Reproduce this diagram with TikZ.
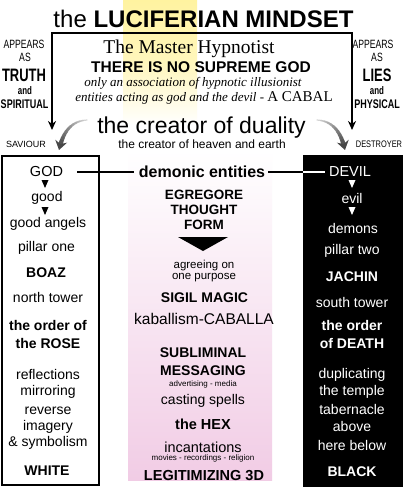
\documentclass[tikz,border=0pt]{standalone}
\usepackage{fontspec}
\setmainfont{Liberation Sans}
\newfontfamily\condf[FakeStretch=0.72]{Liberation Sans}
\newfontfamily\condg[FakeStretch=0.78]{Liberation Sans}
\newfontfamily\seriff{Liberation Serif}
\usetikzlibrary{arrows.meta}
\definecolor{pinkband}{RGB}{241,204,229}
\definecolor{glow}{RGB}{255,243,160}
\begin{document}
\begin{tikzpicture}[x=1pt,y=-1pt,
  txt/.style={inner sep=0pt, align=center},
  fs/.style={txt, font=\fontsize{#1}{#1}\selectfont},
  fsb/.style={txt, font=\bfseries\fontsize{#1}{#1}\selectfont},
  cond/.style={txt, font=\condf\fontsize{#1}{#1}\selectfont},
  condb/.style={txt, font=\condf\bfseries\fontsize{#1}{#1}\selectfont},
  wt/.style={text=white},
  frameline/.style={line width=1.6pt, {Stealth[length=9pt,width=8pt]}-{Stealth[length=9pt,width=8pt]}},
  linkline/.style={line width=1.2pt},
  downtri/.pic={\fill (-3.5,0) -- (3.5,0) -- (0,8) -- cycle;}
]
\useasboundingbox (0,0) rectangle (403,500);
\fill[white] (0,0) rectangle (403,500);
% background bands
\shade[top color=glow, bottom color=white, middle color=glow!70] (123,0) rectangle (197,125);
\shade[top color=white, bottom color=pinkband] (128,150) rectangle (272,480);

% title
\node[fs=24] (title) at (203.5,18.5) {the \textbf{LUCIFERIAN MINDSET}};

% frame with arrows
\coordinate (fl) at (52,130);
\coordinate (ftl) at (52,33);
\coordinate (ftr) at (352,33);
\coordinate (fr) at (352,130);
\draw[frameline] (fl) -- (ftl) -- (ftr) -- (fr);

% side labels
\node[cond=12] (lapp) at (24,44) {APPEARS};
\node[cond=12] (las) at (25,57) {AS};
\node[condb=18] (truth) at (24,75) {TRUTH};
\node[condb=11] (land) at (25,91) {and};
\node[condb=12.5] (spir) at (24.5,104) {SPIRITUAL};
\node[cond=12] (rapp) at (373,44) {APPEARS};
\node[cond=12] (ras) at (377,57) {AS};
\node[condb=18] (lies) at (377,75) {LIES};
\node[condb=11] (rand) at (377,91) {and};
\node[condb=12.5] (phys) at (377,104) {PHYSICAL};

% centre block
\node[txt, font=\seriff\fontsize{19.5}{19.5}\selectfont] (hyp) at (189,49) {The Master Hypnotist};
\node[fsb=15.5] (nogod) at (201,67) {THERE IS NO SUPREME GOD};
\node[txt, font=\seriff\itshape\fontsize{13}{13}\selectfont] (assoc) at (193,83) {only an association of hypnotic illusionist};
\node[txt, font=\seriff\itshape\fontsize{13}{13}\selectfont] (ents) at (204,98) {entities acting as god and the devil - {\upshape\fontsize{15}{15}\selectfont A CABAL}};

\node[fs=23] (duality) at (201.5,127.5) {the creator of duality};
\node[fs=9] (saviour) at (26,144) {SAVIOUR};
\node[txt, font=\condg\fontsize{9.5}{9.5}\selectfont] (destroyer) at (379,144) {DESTROYER};
\node[fs=12] (heaven) at (202,144) {the creator of heaven and earth};

% curved arrows
\coordinate (la0) at (87,120);
\coordinate (la1) at (71,121);
\coordinate (la2) at (63,132);
\coordinate (la3) at (59,150);
\coordinate (ra0) at (317,120);
\coordinate (ra1) at (333,121);
\coordinate (ra2) at (341,132);
\coordinate (ra3) at (345,150);
\foreach \i [evaluate=\i as \t using \i/12] in {0,...,12}{
  \path (la0) .. controls (la1) and (la2) .. (la3) coordinate[pos=\t] (lp\i);
  \path (ra0) .. controls (ra1) and (ra2) .. (ra3) coordinate[pos=\t] (rp\i);
}
\foreach \i [evaluate=\i as \j using int(\i-1), evaluate=\i as \c using int(12+5*\i), evaluate=\i as \w using 0.9+0.3*\i] in {1,...,11}{
  \draw[line width=\w pt, black!\c, line cap=round] (lp\j) -- (lp\i);
  \draw[line width=\w pt, black!\c, line cap=round] (rp\j) -- (rp\i);
}
\draw[-{Stealth[length=9pt,width=12pt]}, line width=3.5pt, black!72] (lp11) -- (lp12);
\draw[-{Stealth[length=9pt,width=12pt]}, line width=3.5pt, black!72] (rp11) -- (rp12);

% boxes
\node[draw=black, line width=1.8pt, fill=white, inner sep=0pt, minimum width=97pt, minimum height=329pt, anchor=north west] (lbox) at (0.9,155) {};
\node[fill=black, inner sep=0pt, minimum width=101pt, minimum height=332pt, anchor=north west] (rbox) at (303,155) {};

% top row with link line
\node[fs=14.5] (god) at (46.5,172) {GOD};
\node[fsb=16] (demon) at (202,172) {demonic entities};
\node[fs=14.5, wt] (devil) at (350,172) {DEVIL};
\draw[linkline] ([xshift=14pt]god.east) -- ([xshift=-5pt]demon.west);
\draw[linkline] ([xshift=3pt]demon.east) -- (rbox.west |- demon);
\draw[linkline, white] (rbox.west |- demon) -- ([xshift=-4pt]devil.west);

% left column
\pic at (45,180) {downtri};
\node[fs=14] (good) at (47,198) {good};
\pic at (45,207) {downtri};
\node[fs=14] (gangels) at (48,224) {good angels};
\node[fs=14] (pone) at (46.5,248) {pillar one};
\node[fsb=14] (boaz) at (46,273) {BOAZ};
\node[fs=14] (north) at (48,297) {north tower};
\node[fsb=14] (orderl) at (48,325) {the order of};
\node[fsb=14] (rose) at (48,343) {the ROSE};
\node[fs=14] (refl) at (48,374) {reflections};
\node[fs=14] (mirr) at (48,392) {mirroring};
\node[fs=14] (rev) at (48,411) {reverse};
\node[fs=14] (imag) at (48,427) {imagery};
\node[fs=14] (symb) at (48,443) {\& symbolism};
\node[fsb=14] (white) at (47,471) {WHITE};

% right column
\begin{scope}[white]
\pic at (352,180) {downtri};
\pic at (352,207) {downtri};
\end{scope}
\node[fs=14, wt] (evil) at (352,198) {evil};
\node[fs=14, wt] (demons) at (353,228) {demons};
\node[fs=14, wt] (ptwo) at (352,250.5) {pillar two};
\node[fsb=14, wt] (jachin) at (352,276.5) {JACHIN};
\node[fs=14, wt] (south) at (352,302) {south tower};
\node[fsb=14, wt] (orderr) at (352,325) {the order};
\node[fsb=14, wt] (death) at (352,343) {of DEATH};
\node[fs=14, wt] (dupl) at (352,375) {duplicating};
\node[fs=14, wt] (temple) at (352,392) {the temple};
\node[fs=14, wt] (tab) at (352,409) {tabernacle};
\node[fs=14, wt] (above) at (352,426) {above};
\node[fs=14, wt] (below) at (352,445) {here below};
\node[fsb=14, wt] (black) at (352,472) {BLACK};

% centre column
\node[fsb=13.5] (egr) at (204,195) {EGREGORE};
\node[fsb=13.5] (thought) at (204,210) {THOUGHT};
\node[fsb=13.5] (form) at (204,225) {FORM};
\coordinate (bt1) at (178,237);
\coordinate (bt2) at (228,237);
\coordinate (bt3) at (203,251);
\fill (bt1) -- (bt2) -- (bt3) -- cycle;
\node[fs=11.5] (agree) at (204,266) {agreeing on};
\node[fs=11.5] (purpose) at (204,278) {one purpose};
\node[fsb=14] (sigil) at (204.5,298) {SIGIL MAGIC};
\node[fs=15.5] (kab) at (204,319) {kaballism-CABALLA};
\node[fsb=14] (subl) at (203,353) {SUBLIMINAL};
\node[fsb=14] (mess) at (203,371) {MESSAGING};
\node[fs=8] (adv) at (203,384) {advertising - media};
\node[fs=14] (cast) at (203,401) {casting spells};
\node[fsb=14.5] (hex) at (203,424) {the HEX};
\node[fs=14.5] (incant) at (203,447) {incantations};
\node[fs=8] (movies) at (203,458.5) {movies - recordings - religion};
\node[fsb=14.5] (legit) at (204,476) {LEGITIMIZING 3D};
\end{tikzpicture}
\end{document}
